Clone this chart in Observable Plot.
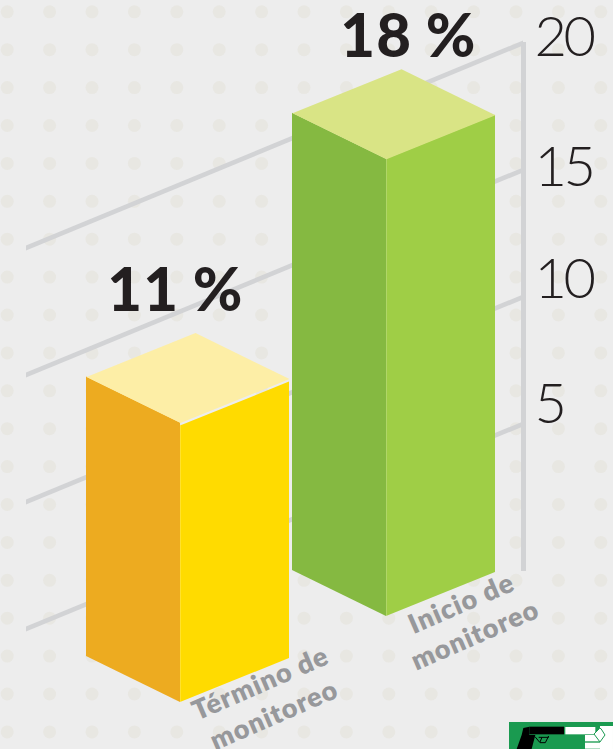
<!DOCTYPE html>
<html lang="es">
<head>
<meta charset="utf-8">
<title>Término e inicio de monitoreo</title>
<script src="https://cdn.jsdelivr.net/npm/d3@7"></script>
<script src="https://cdn.jsdelivr.net/npm/@observablehq/plot@0.6"></script>
<style>
  html, body { margin: 0; padding: 0; background: #ededed; }
  #chart { width: 613px; height: 749px; overflow: hidden; }
  #chart svg { display: block; background: transparent; }
  .tick-label text { letter-spacing: -3.5px; }
  .value-label text { letter-spacing: 1.2px; word-spacing: -2px; }
  .category-label text { letter-spacing: 1px; }
</style>
</head>
<body>
<div id="chart"></div>
<script>
// Chart values
const categories = ["Término de\nmonitoreo", "Inicio de\nmonitoreo"];
const percentages = [11, 18];
const tickValues = [20, 15, 10, 5];

// Face colours of each column: side, front, cap
const sideColors = ["#edab20", "#85b941"];
const frontColors = ["#ffdb00", "#9fce46"];
const capColors = ["#fdeea6", "#d9e485"];

// Scene layout, in pixels
const W = 613, H = 749;
const unit = 25.4;            // pixels per percentage point
const zeroRow = 551;          // row of the zero level where the wall meets the axis
const level = (row) => (zeroRow - row) / unit;

const frontEdge = [180, 386]; // column of each bar's nearest edge
const floorRow = [702, 616];  // row where that edge meets the ground
const capSeam = [3, 0];       // sliver left between the cap and the front face
const leftRun = 94, rightRun = 109, leftRise = 46, rightRise = 44;
const labelShift = [{dx: -20, dy: -41}, {dx: 7, dy: -32}];
const categoryShift = [{dx: 86, dy: -5}, {dx: 81, dy: 1}];
const tickShift = {20: -5, 15: -2, 10: -17, 5: -19};

const wallLeft = 26, axisX = 523, wallSlope = 0.4125;

// Polka-dot backdrop
const dotColumns = d3.range(0, 15).map((i) => 6.7 + i * 42.4);
const dotRows = d3.range(0, 20).map((i) => 11.3 + i * 37.9);
const dots = d3.cross(dotColumns, dotRows);

const bars = categories.map((name, i) => {
  const floor = level(floorRow[i]);
  const top = floor + percentages[i];
  return {
    i, name, value: percentages[i], floor, top,
    front: frontEdge[i],
    left: frontEdge[i] - leftRun,
    right: frontEdge[i] + rightRun,
    back: frontEdge[i] - leftRun + rightRun
  };
});

// Wall lines rising toward the axis, cut vertically at the left end
const wallBand = 2.5 / unit;
const wallMarks = tickValues.map((t) => {
  const drop = (axisX - wallLeft) * wallSlope / unit;
  const pts = [{x: wallLeft, y: t - drop}, {x: axisX, y: t}];
  return Plot.areaY(pts, {
    x: "x",
    y1: (d) => d.y - wallBand,
    y2: (d) => d.y + wallBand,
    fill: "#d2d3d5"
  });
});

// One column: side face, front face, top cap and a soft highlight on the shared edge
const barMarks = bars.flatMap((b) => {
  const rL = leftRise / unit, rR = rightRise / unit;
  const seam = capSeam[b.i] / unit;
  const side = [
    {x: b.left, y1: b.floor + rL, y2: b.top + rL},
    {x: b.front, y1: b.floor, y2: b.top}
  ];
  const frontFace = [
    {x: b.front, y1: b.floor, y2: b.top - seam},
    {x: b.right, y1: b.floor + rR, y2: b.top + rR - seam}
  ];
  const cap = [
    {x: b.front, y: b.top},
    {x: b.left, y: b.top + rL},
    {x: b.back, y: b.top + rL + rR},
    {x: b.right, y: b.top + rR}
  ];
  return [
    Plot.areaY(side, {x: "x", y1: "y1", y2: "y2", fill: sideColors[b.i]}),
    Plot.areaY(frontFace, {x: "x", y1: "y1", y2: "y2", fill: frontColors[b.i]}),
    Plot.line(cap, {x: "x", y: "y", fill: capColors[b.i], stroke: "none"}),
    Plot.ruleX([b.front], {y1: b.floor, y2: b.top - seam, stroke: "#ffffff", strokeOpacity: 0.18, strokeWidth: 1})
  ];
});

const valueLabelMarks = bars.map((b) => {
  const crest = b.top + (leftRise + rightRise) / unit;
  return Plot.text([`${b.value} %`], {
    x: b.back,
    y: crest,
    dx: labelShift[b.i].dx,
    dy: labelShift[b.i].dy,
    text: (d) => d,
    className: "value-label",
    fontFamily: "Lato",
    fontWeight: 900,
    fontSize: 60,
    fill: "#231f20",
    textAnchor: "middle",
    lineAnchor: "middle"
  });
});

const tickLabelMarks = tickValues.map((t) =>
  Plot.text([t], {
    x: axisX + 11,
    y: (d) => d,
    dy: tickShift[t],
    text: (d) => String(d),
    className: "tick-label",
    fontFamily: "Lato",
    fontWeight: 300,
    fontSize: 56,
    fill: "#231f20",
    textAnchor: "start",
    lineAnchor: "middle"
  })
);

const categoryMarks = bars.map((b) =>
  Plot.text([b], {
    x: "front",
    y: "floor",
    dx: categoryShift[b.i].dx,
    dy: categoryShift[b.i].dy,
    text: "name",
    rotate: -23.5,
    className: "category-label",
    fontFamily: "Lato",
    fontWeight: 800,
    fontSize: 27,
    lineHeight: 1.28,
    fill: "#97989b",
    textAnchor: "middle",
    lineAnchor: "middle"
  })
);

// Small badge in the corner: pistol and pointing hand on a green tab
function badge() {
  const g = d3.create("svg:g").attr("transform", "translate(490,700) scale(0.3333)");
  g.append("rect").attr("x", 57).attr("y", 66).attr("width", 312).attr("height", 81).attr("fill", "#1a9a50");
  g.append("path").attr("d", "M100,84 L118,80 L118,105 L136,105 L125,147 L80,147 L95,105 Z").attr("fill", "#000");
  g.append("rect").attr("x", 118).attr("y", 80).attr("width", 104).attr("height", 23).attr("fill", "#000");
  g.append("path").attr("d", "M135,110 L150,128 L166,128 L176,108 M146,112 L176,112 M156,112 L150,126")
    .attr("fill", "none").attr("stroke", "#000").attr("stroke-width", 3);
  g.append("rect").attr("x", 226).attr("y", 81).attr("width", 90).attr("height", 22).attr("fill", "#fff");
  g.append("rect").attr("x", 330).attr("y", 78).attr("width", 39).attr("height", 69).attr("fill", "#fff");
  g.append("rect").attr("x", 285).attr("y", 105).attr("width", 45).attr("height", 19).attr("fill", "#fff");
  g.append("rect").attr("x", 285).attr("y", 128).attr("width", 45).attr("height", 18).attr("fill", "#fff");
  g.append("path").attr("d", "M329,85 L312,102 L330,126 L345,105 L333,86 Z")
    .attr("fill", "#fff").attr("stroke", "#1a9a50").attr("stroke-width", 3);
  return g.node();
}

const plot = Plot.plot({
  width: W,
  height: H,
  margin: 0,
  x: {domain: [0, W], range: [0, W], axis: null},
  y: {domain: [level(H), level(0)], range: [H, 0], axis: null},
  style: {background: "transparent"},
  marks: [
    Plot.dot(dots, {x: (d) => d[0], y: (d) => level(d[1]), r: 6.5, fill: "#e8e7e2", stroke: "none"}),
    ...wallMarks,
    Plot.ruleX([axisX], {y1: level(571), y2: level(42), stroke: "#d2d3d5", strokeWidth: 5}),
    ...tickLabelMarks,
    ...barMarks,
    ...valueLabelMarks,
    ...categoryMarks,
    badge
  ]
});

document.getElementById("chart").append(plot);
</script>
</body>
</html>
